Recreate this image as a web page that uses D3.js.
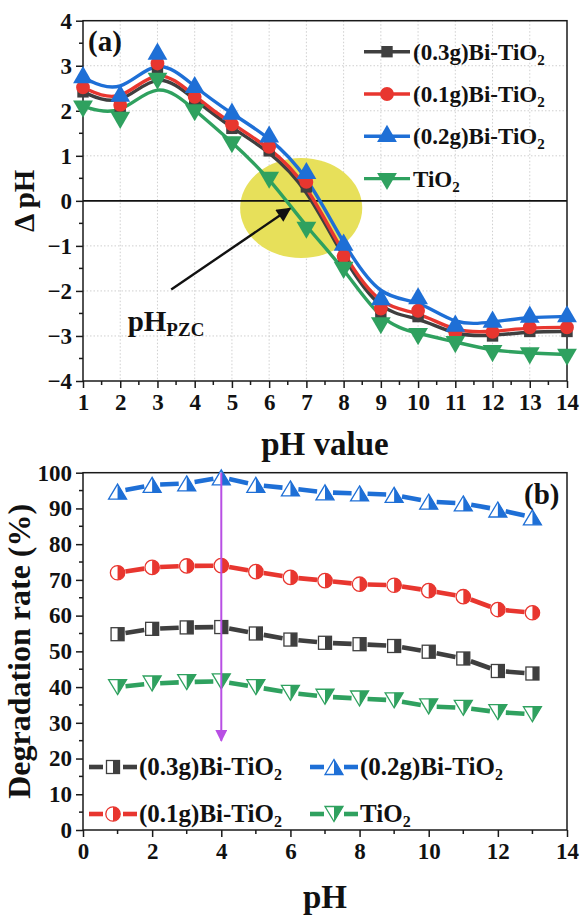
<!DOCTYPE html>
<html><head><meta charset="utf-8">
<script src="https://cdn.jsdelivr.net/npm/d3@7"></script>
<style>html,body{margin:0;padding:0;background:#fff;}svg{display:block;}
text{font-family:"Liberation Serif","Times New Roman",serif;font-weight:bold;fill:#111;}</style>
</head><body>
<svg id="chart" width="581" height="916"></svg>
<script>
// ---------- Data ----------
const seriesNames = ["(0.3g)Bi-TiO", "(0.1g)Bi-TiO", "(0.2g)Bi-TiO", "TiO"];
const seriesColors = ["#3f3f3f", "#e8362f", "#1e6fd6", "#2fa15f"];

// Panel (a): ΔpH vs initial pH
const phA = [1,2,3,4,5,6,7,8,9,10,11,12,13,14];
const dpH_03 = [2.42, 2.05, 2.94, 2.24, 1.61, 1.11, 0.31, -1.30, -2.50, -2.57, -3.00, -3.00, -2.90, -2.90];
const dpH_01 = [2.52, 2.13, 3.05, 2.31, 1.70, 1.20, 0.42, -1.23, -2.39, -2.44, -2.93, -2.91, -2.81, -2.81];
const dpH_02 = [2.74, 2.33, 3.26, 2.52, 1.93, 1.42, 0.61, -0.98, -2.19, -2.17, -2.78, -2.69, -2.58, -2.57];
const dpH_TiO2 = [2.10, 1.85, 2.72, 2.02, 1.31, 0.52, -0.59, -1.48, -2.71, -2.95, -3.13, -3.33, -3.38, -3.41];
const xTicksA = [1,2,3,4,5,6,7,8,9,10,11,12,13,14];
const yTicksA = [-4,-3,-2,-1,0,1,2,3,4];

// Panel (b): degradation rate vs pH
const phB = [1,2,3,4,5,6,7,8,9,10,11,12,13];
const deg_03 = [54.8, 56.3, 56.7, 56.8, 55.0, 53.3, 52.4, 52.0, 51.5, 49.9, 48.0, 44.5, 43.8];
const deg_01 = [72.0, 73.5, 73.9, 74.0, 72.3, 70.7, 69.8, 68.8, 68.5, 67.0, 65.3, 61.7, 60.8];
const deg_02 = [94.7, 96.6, 97.0, 98.7, 96.6, 95.6, 94.5, 94.2, 93.8, 91.9, 91.4, 89.7, 87.5];
const deg_TiO2 = [40.0, 41.0, 41.4, 41.6, 40.0, 38.4, 37.3, 36.8, 36.3, 34.6, 34.2, 33.0, 32.4];
const xTicksB = [0,2,4,6,8,10,12,14];
const yTicksB = [0,10,20,30,40,50,60,70,80,90,100];

// Annotations (data coordinates)
const pzcEllipse = {cx: 6.86, cy: -0.16, rx: 1.64, ry: 1.11};
const pzcArrow = {x1: 3.37, y1: -1.97, x2: 6.56, y2: -0.17};
const pzcLabel = {x: 2.2, y: -2.88};
const bestPH = {x: 4, y1: 100, y2: 25};

// ---------- Layout ----------
const svg = d3.select("#chart");
const L = 83, R = 567;
const A = {top: 20.7, bottom: 381};
const B = {top: 472.7, bottom: 830};

const xA = d3.scaleLinear().domain([1,14]).range([L,R]);
const yA = d3.scaleLinear().domain([-4,4]).range([A.bottom, A.top]);
const xB = d3.scaleLinear().domain([0,14]).range([L,R]);
const yB = d3.scaleLinear().domain([0,100]).range([B.bottom, B.top]);

const frameColor = "#1a1a1a";
const tickFont = 23;

// ---------- Panel (a) ----------
const gA = svg.append("g");
// grid
gA.append("g").selectAll("line").data(d3.range(2,14)).join("line")
  .attr("x1", d=>xA(d)).attr("x2", d=>xA(d)).attr("y1", A.top).attr("y2", A.bottom)
  .attr("stroke", "#cfcfcf").attr("stroke-width", 1).attr("stroke-dasharray", "1.5,2");
gA.append("g").selectAll("line").data([-3,-2,-1,1,2,3]).join("line")
  .attr("x1", L).attr("x2", R).attr("y1", d=>yA(d)).attr("y2", d=>yA(d))
  .attr("stroke", "#cfcfcf").attr("stroke-width", 1).attr("stroke-dasharray", "1.5,2");

// yellow ellipse
gA.append("ellipse")
  .attr("cx", xA(pzcEllipse.cx)).attr("cy", yA(pzcEllipse.cy))
  .attr("rx", xA(pzcEllipse.cx + pzcEllipse.rx) - xA(pzcEllipse.cx))
  .attr("ry", yA(pzcEllipse.cy - pzcEllipse.ry) - yA(pzcEllipse.cy))
  .attr("fill", "#e7e05a");

// zero line
gA.append("line").attr("x1", L).attr("x2", R).attr("y1", yA(0)).attr("y2", yA(0))
  .attr("stroke", "#111").attr("stroke-width", 1.6);

// axes
const axA_b = d3.axisBottom(xA).tickValues(xTicksA).tickSize(7).tickPadding(6).tickFormat(d3.format("d"));
const axA_l = d3.axisLeft(yA).tickValues(yTicksA).tickSize(7).tickPadding(4).tickFormat(d3.format("d"));
function styleAxis(g) {
  g.select(".domain").remove();
  g.selectAll(".tick line").attr("stroke", frameColor).attr("stroke-width", 1.5);
  g.selectAll(".tick text").style("font-family", '"Liberation Serif",serif').style("font-weight", "bold")
    .style("font-size", tickFont + "px").attr("fill", "#111");
}
gA.append("g").attr("transform", `translate(0,${A.bottom})`).call(axA_b).call(styleAxis);
gA.append("g").attr("transform", `translate(${L},0)`).call(axA_l).call(styleAxis);
// minor ticks
gA.append("g").selectAll("line").data(d3.range(1.5,14,1)).join("line")
  .attr("x1", d=>xA(d)).attr("x2", d=>xA(d)).attr("y1", A.bottom).attr("y2", A.bottom+4)
  .attr("stroke", frameColor).attr("stroke-width", 1.5);
gA.append("g").selectAll("line").data(d3.range(-3.5,4,1)).join("line")
  .attr("x1", L-4).attr("x2", L).attr("y1", d=>yA(d)).attr("y2", d=>yA(d))
  .attr("stroke", frameColor).attr("stroke-width", 1.5);
// frame
gA.append("rect").attr("x", L).attr("y", A.top).attr("width", R-L).attr("height", A.bottom-A.top)
  .attr("fill", "none").attr("stroke", frameColor).attr("stroke-width", 1.5);

// series lines (B-spline) and markers
const seriesA = [dpH_03, dpH_01, dpH_02, dpH_TiO2];
const symA = [d3.symbolSquare, d3.symbolCircle, d3.symbolTriangle, d3.symbolTriangle];
const symSizeA = [130, 150, 170, 170];
const lineA = d3.line().x(d=>xA(d[0])).y(d=>yA(d[1])).curve(d3.curveBasis);
seriesA.forEach((vals, i) => {
  const pts = phA.map((p, k) => [p, vals[k]]);
  gA.append("path").datum(pts).attr("d", lineA).attr("fill", "none")
    .attr("stroke", seriesColors[i]).attr("stroke-width", 3.4);
});
seriesA.forEach((vals, i) => {
  const pts = phA.map((p, k) => [p, vals[k]]);
  gA.append("g").selectAll("path").data(pts).join("path")
    .attr("d", d3.symbol().type(symA[i]).size(symSizeA[i]))
    .attr("transform", d => `translate(${xA(d[0])},${yA(d[1])})` + (i === 3 ? " rotate(180)" : ""))
    .attr("fill", seriesColors[i]);
});

// arrow pointing at pH_PZC
const defs = svg.append("defs");
defs.append("marker").attr("id", "ahBlack").attr("viewBox", "0 0 10 10").attr("refX", 9).attr("refY", 5)
  .attr("markerWidth", 7).attr("markerHeight", 6).attr("markerUnits", "strokeWidth").attr("orient", "auto")
  .append("path").attr("d", "M0,0 L10,5 L0,10 Z").attr("fill", "#111");
gA.append("line").attr("x1", xA(pzcArrow.x1)).attr("y1", yA(pzcArrow.y1))
  .attr("x2", xA(pzcArrow.x2)).attr("y2", yA(pzcArrow.y2))
  .attr("stroke", "#111").attr("stroke-width", 2.4).attr("marker-end", "url(#ahBlack)");
const pzc = gA.append("text").attr("x", xA(pzcLabel.x)).attr("y", yA(pzcLabel.y)).style("font-size", "29px");
pzc.append("tspan").text("pH");
pzc.append("tspan").attr("dy", 5).style("font-size", "19px").text("PZC");

// panel label
gA.append("text").attr("x", 88).attr("y", 51).style("font-size", "29px").text("(a)");

// legend (a)
const legA = gA.append("g");
seriesNames.forEach((name, i) => {
  const y = 51.7 + i * 42.3;
  legA.append("line").attr("x1", 364).attr("x2", 410).attr("y1", y).attr("y2", y)
    .attr("stroke", seriesColors[i]).attr("stroke-width", 3.4);
  legA.append("path").attr("d", d3.symbol().type(symA[i]).size(symSizeA[i]))
    .attr("transform", `translate(387,${y})` + (i === 3 ? " rotate(180)" : "")).attr("fill", seriesColors[i]);
  const t = legA.append("text").attr("x", 413).attr("y", y + 8).style("font-size", "23px");
  t.append("tspan").text(name);
  t.append("tspan").attr("dy", 5).style("font-size", "15px").text("2");
});

// axis titles (a)
gA.append("text").attr("transform", `translate(34,${(A.top+A.bottom)/2}) rotate(-90)`)
  .attr("text-anchor", "middle").style("font-size", "29px").text("Δ pH");
gA.append("text").attr("x", (L+R)/2).attr("y", 455).attr("text-anchor", "middle")
  .style("font-size", "33px").text("pH value");

// ---------- Panel (b) ----------
const gB = svg.append("g");
const axB_b = d3.axisBottom(xB).tickValues(xTicksB).tickSize(7).tickPadding(6).tickFormat(d3.format("d"));
const axB_l = d3.axisLeft(yB).tickValues(yTicksB).tickSize(7).tickPadding(4).tickFormat(d3.format("d"));
gB.append("g").attr("transform", `translate(0,${B.bottom})`).call(axB_b).call(styleAxis);
gB.append("g").attr("transform", `translate(${L},0)`).call(axB_l).call(styleAxis);
gB.append("g").selectAll("line").data(d3.range(1,14,2)).join("line")
  .attr("x1", d=>xB(d)).attr("x2", d=>xB(d)).attr("y1", B.bottom).attr("y2", B.bottom+4)
  .attr("stroke", frameColor).attr("stroke-width", 1.5);
gB.append("g").selectAll("line").data(d3.range(5,100,10)).join("line")
  .attr("x1", L-4).attr("x2", L).attr("y1", d=>yB(d)).attr("y2", d=>yB(d))
  .attr("stroke", frameColor).attr("stroke-width", 1.5);
gB.append("rect").attr("x", L).attr("y", B.top).attr("width", R-L).attr("height", B.bottom-B.top)
  .attr("fill", "none").attr("stroke", frameColor).attr("stroke-width", 1.5);

// half-filled marker drawing
function halfMarker(g, kind, cx, cy, color) {
  const m = g.append("g").attr("transform", `translate(${cx},${cy})`);
  if (kind === 0) { // square
    const s = 13;
    m.append("rect").attr("x", -s/2).attr("y", -s/2).attr("width", s).attr("height", s)
      .attr("fill", "#fff").attr("stroke", color).attr("stroke-width", 1.3);
    m.append("rect").attr("x", 0).attr("y", -s/2).attr("width", s/2).attr("height", s).attr("fill", color);
  } else if (kind === 1) { // circle
    const r = 7.2;
    m.append("circle").attr("r", r).attr("fill", "#fff").attr("stroke", color).attr("stroke-width", 1.3);
    m.append("path").attr("d", `M0,${-r} A${r},${r} 0 0 1 0,${r} Z`).attr("fill", color);
  } else if (kind === 2) { // triangle up
    const w = 9, h = 7.5;
    m.append("path").attr("d", `M0,${-h} L${w},${h} L${-w},${h} Z`).attr("fill", "#fff")
      .attr("stroke", color).attr("stroke-width", 1.3);
    m.append("path").attr("d", `M0,${-h} L${w},${h} L0,${h} Z`).attr("fill", color);
  } else { // triangle down
    const w = 9, h = 7.5;
    m.append("path").attr("d", `M0,${h} L${w},${-h} L${-w},${-h} Z`).attr("fill", "#fff")
      .attr("stroke", color).attr("stroke-width", 1.3);
    m.append("path").attr("d", `M0,${h} L${w},${-h} L0,${-h} Z`).attr("fill", color);
  }
}

const seriesB = [deg_03, deg_01, deg_02, deg_TiO2];
const gap = 8;
seriesB.forEach((vals, i) => {
  const pts = phB.map((p, k) => [xB(p), yB(vals[k])]);
  const segs = d3.pairs(pts).map(([a, b]) => {
    const dx = b[0]-a[0], dy = b[1]-a[1], len = Math.hypot(dx, dy);
    const ux = dx/len, uy = dy/len;
    return [a[0]+ux*gap, a[1]+uy*gap, b[0]-ux*gap, b[1]-uy*gap];
  });
  gB.append("g").selectAll("line").data(segs).join("line")
    .attr("x1", d=>d[0]).attr("y1", d=>d[1]).attr("x2", d=>d[2]).attr("y2", d=>d[3])
    .attr("stroke", seriesColors[i]).attr("stroke-width", 4.6).attr("stroke-linecap", "butt");
  const mg = gB.append("g");
  pts.forEach(p => halfMarker(mg, i, p[0], p[1], seriesColors[i]));
});

// magenta arrow at optimum pH
defs.append("marker").attr("id", "ahMag").attr("viewBox", "0 0 10 10").attr("refX", 9).attr("refY", 5)
  .attr("markerWidth", 6).attr("markerHeight", 6).attr("orient", "auto")
  .append("path").attr("d", "M0,0 L10,5 L0,10 Z").attr("fill", "#b84fe4");
gB.append("line").attr("x1", xB(bestPH.x)).attr("x2", xB(bestPH.x))
  .attr("y1", yB(bestPH.y1)).attr("y2", yB(bestPH.y2))
  .attr("stroke", "#b84fe4").attr("stroke-width", 2).attr("marker-end", "url(#ahMag)");

gB.append("text").attr("x", 524).attr("y", 504).style("font-size", "29px").text("(b)");

// legend (b)
const legBpos = [[89, 767], [89, 814], [310, 767], [310, 814]];
[0, 1, 2, 3].forEach((i) => {
  const [x0, y] = legBpos[i];
  const lg = gB.append("g");
  lg.append("line").attr("x1", x0).attr("x2", x0+14).attr("y1", y).attr("y2", y)
    .attr("stroke", seriesColors[i]).attr("stroke-width", 4.6);
  lg.append("line").attr("x1", x0+34).attr("x2", x0+48).attr("y1", y).attr("y2", y)
    .attr("stroke", seriesColors[i]).attr("stroke-width", 4.6);
  halfMarker(lg, i, x0+24, y, seriesColors[i]);
  const t = lg.append("text").attr("x", x0+50).attr("y", y + 8).style("font-size", "25px");
  t.append("tspan").text(seriesNames[i]);
  t.append("tspan").attr("dy", 5).style("font-size", "16px").text("2");
});

// axis titles (b)
gB.append("text").attr("transform", `translate(30,${(B.top+B.bottom)/2}) rotate(-90)`)
  .attr("text-anchor", "middle").style("font-size", "32px").text("Degradation rate (%)");
gB.append("text").attr("x", (L+R)/2).attr("y", 908).attr("text-anchor", "middle")
  .style("font-size", "33px").text("pH");
</script>
</body></html>
